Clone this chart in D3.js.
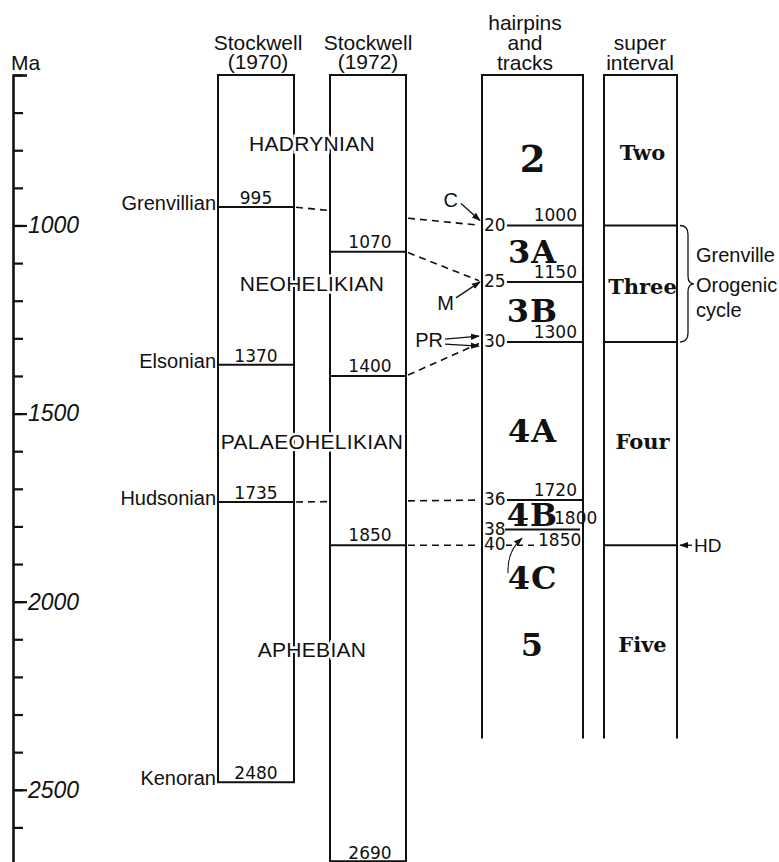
<!DOCTYPE html>
<html><head><meta charset="utf-8">
<script src="https://cdn.jsdelivr.net/npm/d3@7"></script>
<style>body{margin:0;background:#fff}svg{display:block}</style>
</head><body><svg id="c" width="779" height="862"></svg>
<script>
// ---------------- data ----------------
const minorTicks = [600,700,800,900,1000,1100,1200,1300,1400,1500,1600,1700,1800,1900,2000,2100,2200,2300,2400,2500,2600,2700];
const majorTicks = [1000,1500,2000,2500];
const columnTitles = [["Stockwell","(1970)"],["Stockwell","(1972)"],["hairpins","and","tracks"],["super","interval"]];
const eraNames = ["HADRYNIAN","NEOHELIKIAN","PALAEOHELIKIAN","APHEBIAN"];
const eraAges = [781,1153,1573,2128];
const orogenyNames = ["Grenvillian","Elsonian","Hudsonian","Kenoran"];
const s70Labels = ["995","1370","1735","2480"];
const s70Ages = [951,1370,1735,2480];
const s72Labels = ["1070","1400","1850","2690"];
const s72Ages = [1070,1400,1850,2690];
const hairpinMarks = ["20","25","30","36","38","40"];
const hairpinLabels = ["1000","1150","1300","1720","1800","1850"];
const hairpinAges = [1000,1150,1310,1730,1808,1850];
const hairpinNames = ["2","3A","3B","4A","4B","4C","5"];
const hairpinNameAges = [823,1070,1225,1544,1769,1937,2115];
const superNames = ["Two","Three","Four","Five"];
const superNameAges = [805,1163,1573,2115];
const superBounds = [1000,1310,1850];
const corrFrom = [0,1,1,0,1];          // source column
const corrAges = [951,1070,1400,1735,1850];
const corrTo = [0,1,2,3,5];            // hairpin mark index
const pointerLabels = ["C","M","PR"];
const pointerTo = [0,1,2];
const braceLabel = ["Grenville","Orogenic","cycle"];
const hdLabel = "HD";
const hdAge = 1850;
const openBottomAge = 2364;

// ---------------- layout ----------------
const svg = d3.select("#c");
const y = d3.scaleLinear().domain([600,2700]).range([75,865]);
const cols = [{x0:218,x1:294},{x0:330,x1:406},{x0:482,x1:583},{x0:604,x1:677}];
const INK = "#111";
const SANS = "'Liberation Sans', Arial, sans-serif";
const NUM = "'DejaVu Sans', sans-serif";
const SERIF = "'DejaVu Serif', serif";

const defs = svg.append("defs");
defs.append("marker").attr("id","ah").attr("viewBox","0 0 10 10").attr("refX",9).attr("refY",5)
  .attr("markerWidth",9).attr("markerHeight",9).attr("markerUnits","userSpaceOnUse").attr("orient","auto")
  .append("path").attr("d","M0,1.5 L10,5 L0,8.5 Z").attr("fill",INK);

// axis
const ax = svg.append("g").attr("transform","translate(13,0)");
ax.call(d3.axisRight(y).tickValues(minorTicks).tickSize(10).tickSizeOuter(14).tickFormat(""));
ax.selectAll("path.domain").attr("stroke",INK).attr("stroke-width",2.6);
ax.selectAll(".tick line").attr("stroke",INK).attr("stroke-width",2.2);
const ax2 = svg.append("g").attr("transform","translate(13,0)");
ax2.call(d3.axisRight(y).tickValues(majorTicks).tickSize(14).tickPadding(1).tickFormat(d=>d));
ax2.select("path.domain").remove();
ax2.selectAll(".tick line").attr("stroke",INK).attr("stroke-width",2.2);
ax2.selectAll(".tick text").attr("fill",INK).style("font-family",SANS).style("font-style","italic").style("font-size","23px");
svg.append("text").attr("x",11).attr("y",70).text("Ma").attr("fill",INK).style("font-family",SANS).style("font-size","21px");

// column headers
const headerBase = [[50,69],[50,69],[30,50,70],[50,70]];
const headerCx = [258,368,525,640];
columnTitles.forEach((lines,i)=>{
  lines.forEach((t,j)=>{
    svg.append("text").attr("x",headerCx[i]).attr("y",headerBase[i][j]).attr("text-anchor","middle")
      .text(t).attr("fill",INK).style("font-family",SANS).style("font-size",i<2?"21px":"21px");
  });
});

// correlation dashed lines (drawn first)
const dash = svg.append("g").attr("stroke",INK).attr("stroke-width",1.6).attr("stroke-dasharray","7,5").attr("fill","none");
corrAges.forEach((a,i)=>{
  const xs = cols[corrFrom[i]].x1, ys = y(a);
  const xe = cols[2].x0, ye = y(hairpinAges[corrTo[i]]);
  const f = x => ys + (ye-ys)*(x-xs)/(xe-xs);
  if (corrFrom[i]===0) {
    dash.append("line").attr("x1",xs+2).attr("y1",f(xs+2)).attr("x2",cols[1].x0-2).attr("y2",f(cols[1].x0-2));
  }
  dash.append("line").attr("x1",cols[1].x1+2).attr("y1",f(cols[1].x1+2)).attr("x2",xe-3).attr("y2",f(xe-3));
});

// columns
const colG = svg.append("g").attr("stroke",INK).attr("stroke-width",2).attr("fill","none");
[[0,s70Ages[3]],[1,s72Ages[3]]].forEach(([i,b])=>{
  colG.append("rect").attr("x",cols[i].x0).attr("y",y(600)).attr("width",cols[i].x1-cols[i].x0).attr("height",y(b)-y(600));
});
[2,3].forEach(i=>{
  colG.append("path").attr("d",`M${cols[i].x0},${y(openBottomAge)} V${y(600)} H${cols[i].x1} V${y(openBottomAge)}`);
});

// Stockwell 1970 boundaries
s70Ages.forEach((a,i)=>{
  if (i<3) colG.append("line").attr("x1",cols[0].x0).attr("x2",cols[0].x1).attr("y1",y(a)).attr("y2",y(a));
  svg.append("text").attr("x",(cols[0].x0+cols[0].x1)/2).attr("y",y(a)-3).attr("text-anchor","middle")
    .text(s70Labels[i]).attr("fill",INK).style("font-family",NUM).style("font-size","17px");
  svg.append("text").attr("x",cols[0].x0-2).attr("y",y(a)+3).attr("text-anchor","end")
    .text(orogenyNames[i]).attr("fill",INK).style("font-family",SANS).style("font-size","20px");
});
// Stockwell 1972 boundaries
s72Ages.forEach((a,i)=>{
  if (i<3) colG.append("line").attr("x1",cols[1].x0).attr("x2",cols[1].x1).attr("y1",y(a)).attr("y2",y(a));
  svg.append("text").attr("x",(cols[1].x0+cols[1].x1)/2+2).attr("y",y(a)-(i<3?4:2)).attr("text-anchor","middle")
    .text(s72Labels[i]).attr("fill",INK).style("font-family",NUM).style("font-size","17px");
});

// era names spanning both Stockwell columns (white halo breaks lines)
eraNames.forEach((t,i)=>{
  svg.append("text").attr("x",(cols[0].x0+cols[1].x1)/2).attr("y",y(eraAges[i])).attr("dy","0.36em")
    .attr("text-anchor","middle").text(t).attr("fill",INK).attr("stroke","#fff").attr("stroke-width",5)
    .attr("paint-order","stroke").style("font-family",SANS).style("font-size","21px").style("letter-spacing","0.3px");
});

// hairpin boundaries
hairpinAges.forEach((a,i)=>{
  const yy = y(a);
  svg.append("text").attr("x",cols[2].x0+2).attr("y",yy-1).attr("dy","0.36em")
    .text(hairpinMarks[i]).attr("fill",INK).style("font-family",NUM).style("font-size","17px");
  if (i<5) {
    colG.append("line").attr("x1",cols[2].x0+(i===4?23:25)).attr("x2",cols[2].x1-(i===4?3:0)).attr("y1",yy).attr("y2",yy);
  } else {
    svg.append("line").attr("x1",cols[2].x0+24).attr("x2",cols[2].x0+55).attr("y1",yy).attr("y2",yy)
      .attr("stroke",INK).attr("stroke-width",1.6).attr("stroke-dasharray","6,5");
  }
  let tx, ty, anchor;
  if (i<4) { tx = cols[2].x1-6; ty = yy-4; anchor="end"; }
  else if (i===4) { tx = cols[2].x1-29; ty = yy-5; anchor="start"; }
  else { tx = cols[2].x0+56; ty = yy+1; anchor="start"; }
  svg.append("text").attr("x",tx).attr("y",ty).attr("text-anchor",anchor)
    .text(hairpinLabels[i]).attr("fill",INK).style("font-family",NUM).style("font-size","17px");
});
hairpinNames.forEach((t,i)=>{
  svg.append("text").attr("x",(cols[2].x0+cols[2].x1)/2).attr("y",y(hairpinNameAges[i])).attr("dy","0.36em")
    .attr("text-anchor","middle").text(t).attr("fill",INK)
    .style("font-family",SERIF).style("font-weight","bold").style("font-size",i===0?"37px":"32px")
    .style("letter-spacing",i===0?"0px":"1px");
});

// curved arrow to 4C
{
  const ye = y(hairpinAges[5]);
  const sx = cols[2].x0+26, sy = ye+28, ex = cols[2].x0+40, ey = ye-7;
  svg.append("path").attr("d",`M${sx},${sy} Q${sx-1},${sy-22} ${ex},${ey}`).attr("fill","none")
    .attr("stroke",INK).attr("stroke-width",1.1).attr("marker-end","url(#ah)");
}

// super interval
superBounds.forEach(a=>{
  colG.append("line").attr("x1",cols[3].x0).attr("x2",cols[3].x1).attr("y1",y(a)).attr("y2",y(a));
});
superNames.forEach((t,i)=>{
  svg.append("text").attr("x",(cols[3].x0+cols[3].x1)/2+2).attr("y",y(superNameAges[i])).attr("dy","0.36em")
    .attr("text-anchor","middle").text(t).attr("fill",INK)
    .style("font-family",SERIF).style("font-weight","bold").style("font-size","21px");
});

// pointers C, M, PR
const ptr = svg.append("g");
pointerLabels.forEach((t,i)=>{
  const ty = y(hairpinAges[pointerTo[i]]);
  const tx = cols[2].x0-2;
  if (t==="C") {
    ptr.append("text").attr("x",tx-22).attr("y",ty-26).attr("dy","0.36em").attr("text-anchor","end").text(t);
    ptr.append("line").attr("x1",tx-19).attr("y1",ty-22).attr("x2",tx).attr("y2",ty-5);
  } else if (t==="M") {
    ptr.append("text").attr("x",tx-26).attr("y",ty+21).attr("dy","0.36em").attr("text-anchor","end").text(t);
    ptr.append("line").attr("x1",tx-24).attr("y1",ty+16).attr("x2",tx).attr("y2",ty);
  } else {
    ptr.append("text").attr("x",tx-37).attr("y",ty-2).attr("dy","0.36em").attr("text-anchor","end").text(t);
    ptr.append("line").attr("x1",tx-35).attr("y1",ty-3).attr("x2",tx-1).attr("y2",ty-6);
    ptr.append("line").attr("x1",tx-35).attr("y1",ty+2).attr("x2",tx-1).attr("y2",ty+4);
  }
});
ptr.selectAll("text").attr("fill",INK).style("font-family",SANS).style("font-size","20px");
ptr.selectAll("line").attr("stroke",INK).attr("stroke-width",1.3).attr("marker-end","url(#ah)");

// HD arrow
{
  const yy = y(hdAge);
  svg.append("line").attr("x1",cols[3].x1+15).attr("x2",cols[3].x1+3).attr("y1",yy).attr("y2",yy)
    .attr("stroke",INK).attr("stroke-width",1.3).attr("marker-end","url(#ah)");
  svg.append("text").attr("x",cols[3].x1+17).attr("y",yy).attr("dy","0.36em").text(hdLabel)
    .attr("fill",INK).style("font-family",SANS).style("font-size","19px");
}

// Grenville brace
{
  const x0 = cols[3].x1+3, yt = y(superBounds[0]), yb = y(superBounds[1]), ym = (yt+yb)/2;
  const xm = x0+8, xt = x0+14;
  svg.append("path").attr("d",
    `M${x0},${yt} Q${xm},${yt} ${xm},${yt+9} L${xm},${ym-8} Q${xm},${ym} ${xt},${ym} Q${xm},${ym} ${xm},${ym+8} L${xm},${yb-9} Q${xm},${yb} ${x0},${yb}`)
    .attr("fill","none").attr("stroke",INK).attr("stroke-width",1.3);
  const offs = [-29,1,26];
  braceLabel.forEach((t,i)=>{
    svg.append("text").attr("x",xt+2).attr("y",ym+offs[i]).attr("dy","0.36em").text(t)
      .attr("fill",INK).style("font-family",SANS).style("font-size","20px");
  });
}
</script></body></html>
